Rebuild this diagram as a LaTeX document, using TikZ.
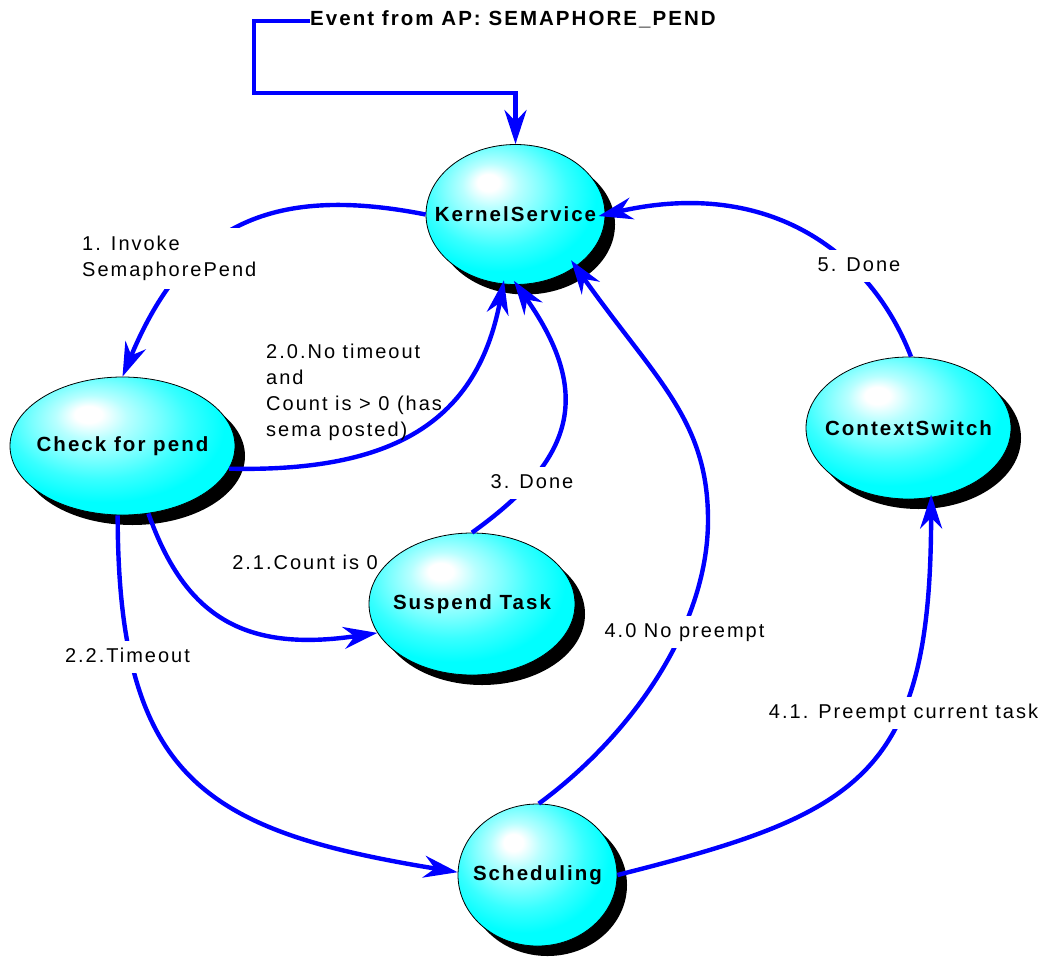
\documentclass[tikz,border=0pt]{standalone}
\usepackage{fontspec}
\setmainfont{Liberation Sans}[LetterSpace=10]
\usetikzlibrary{arrows.meta,shapes.geometric,shadows}
\pgfdeclareradialshading{glossy}{\pgfpoint{-8bp}{12bp}}{color(0bp)=(white); color(3bp)=(white); color(8bp)=(cyan!28!white); color(14bp)=(cyan!52!white); color(20bp)=(cyan!78!white); color(27bp)=(cyan); color(60bp)=(cyan)}
\begin{document}
\begin{tikzpicture}[x=1pt,y=-1pt,
  state/.style={ellipse, draw=black, line width=0.8pt, shade, shading=glossy, inner sep=0pt,
    font=\fontsize{20.5pt}{24pt}\selectfont\bfseries,
    drop shadow={shadow xshift=10pt, shadow yshift=-10pt, fill=black, opacity=1}},
  conn/.style={draw=blue, line width=4.4pt, -{Stealth[length=34pt,width=22pt,inset=11pt]}},
  lbl/.style={font=\fontsize{20pt}{26pt}\selectfont, inner xsep=4pt, inner ysep=7pt, text height=14pt, text depth=4pt},
  lblw/.style={lbl, fill=white},
  mlbl/.style={font=\fontsize{20pt}{26pt}\selectfont, inner xsep=4pt, inner ysep=8pt, align=left}
]
\fill[white] (0,0) rectangle (1051,956);
\useasboundingbox (0,0) rectangle (1051,956);

% states
\node[state, minimum width=179pt, minimum height=140pt] (ks) at (515.5,214.5) {\makebox[0pt]{KernelService}};
\node[state, minimum width=225pt, minimum height=138pt] (cp) at (122.5,446) {\makebox[0pt]{Check for pend}};
\node[state, minimum width=206pt, minimum height=142pt] (st) at (472,604) {\makebox[0pt]{Suspend Task}};
\node[state, minimum width=205pt, minimum height=142pt] (cs) at (908.5,428) {\makebox[0pt]{ContextSwitch}};
\node[state, minimum width=159pt, minimum height=142pt] (sc) at (537.5,875) {\makebox[0pt]{Scheduling}};

% event
\node[font=\fontsize{20.5pt}{24pt}\selectfont\bfseries, inner sep=0pt, anchor=west] (ev) at (310,19) {Event from AP: SEMAPHORE\_PEND};
\coordinate (c1) at (254,21);
\coordinate (c2) at (254,93);
\draw[conn] (ev.west |- c1) -- (c1) -- (c2) -| (ks.north);

% connectors
\draw[conn] (ks.180) .. controls (266,183) and (184,229) .. (cp.90);
\draw[conn, shorten >=-4pt] (cp.-12) .. controls (383,472) and (476,429) .. (ks.-100);
\draw[conn, shorten >=-5pt] (st.90) .. controls (569,463) and (597,399) .. (ks.-89);
\draw[conn] (cp.-94) .. controls (118,780) and (206,831) .. (sc.178);
\draw[conn] (cp.-69) .. controls (185,617) and (244.5,652.6) .. (st.-163);
\coordinate (m6) at (708,520);
\draw[conn, shorten >=-8pt] (sc.89) .. controls (627,739) and (708,630) .. (m6) .. controls (708,420) and (656,380) .. (ks.-41);
\draw[conn, shorten >=-3pt] (sc.0) .. controls (859.5,814) and (931,777) .. (cs.-72);
\draw[conn, shorten >=-7pt] (cs.88) .. controls (871.5,253.6) and (770,177) .. (ks.0);

% labels
\node[mlbl, fill=white, anchor=west] (l1) at (78,258.5) {1. Invoke\\SemaphorePend};
\node[mlbl, anchor=west, inner ysep=0pt] (l20) at (262,392.5) {2.0.No timeout\\and\\Count is > 0 (has\\sema posted)};
\node[lblw] (l3) at (532,483) {3. Done};
\node[lbl] (l21) at (305,564) {2.1.Count is 0};
\node[lblw] (l22) at (127.5,657) {2.2.Timeout};
\node[lblw] (l40) at (684.5,632) {4.0 No preempt};
\node[lblw] (l41) at (903.5,713) {4.1. Preempt current task};
\node[lblw] (l5) at (859,266) {5. Done};
\end{tikzpicture}
\end{document}
